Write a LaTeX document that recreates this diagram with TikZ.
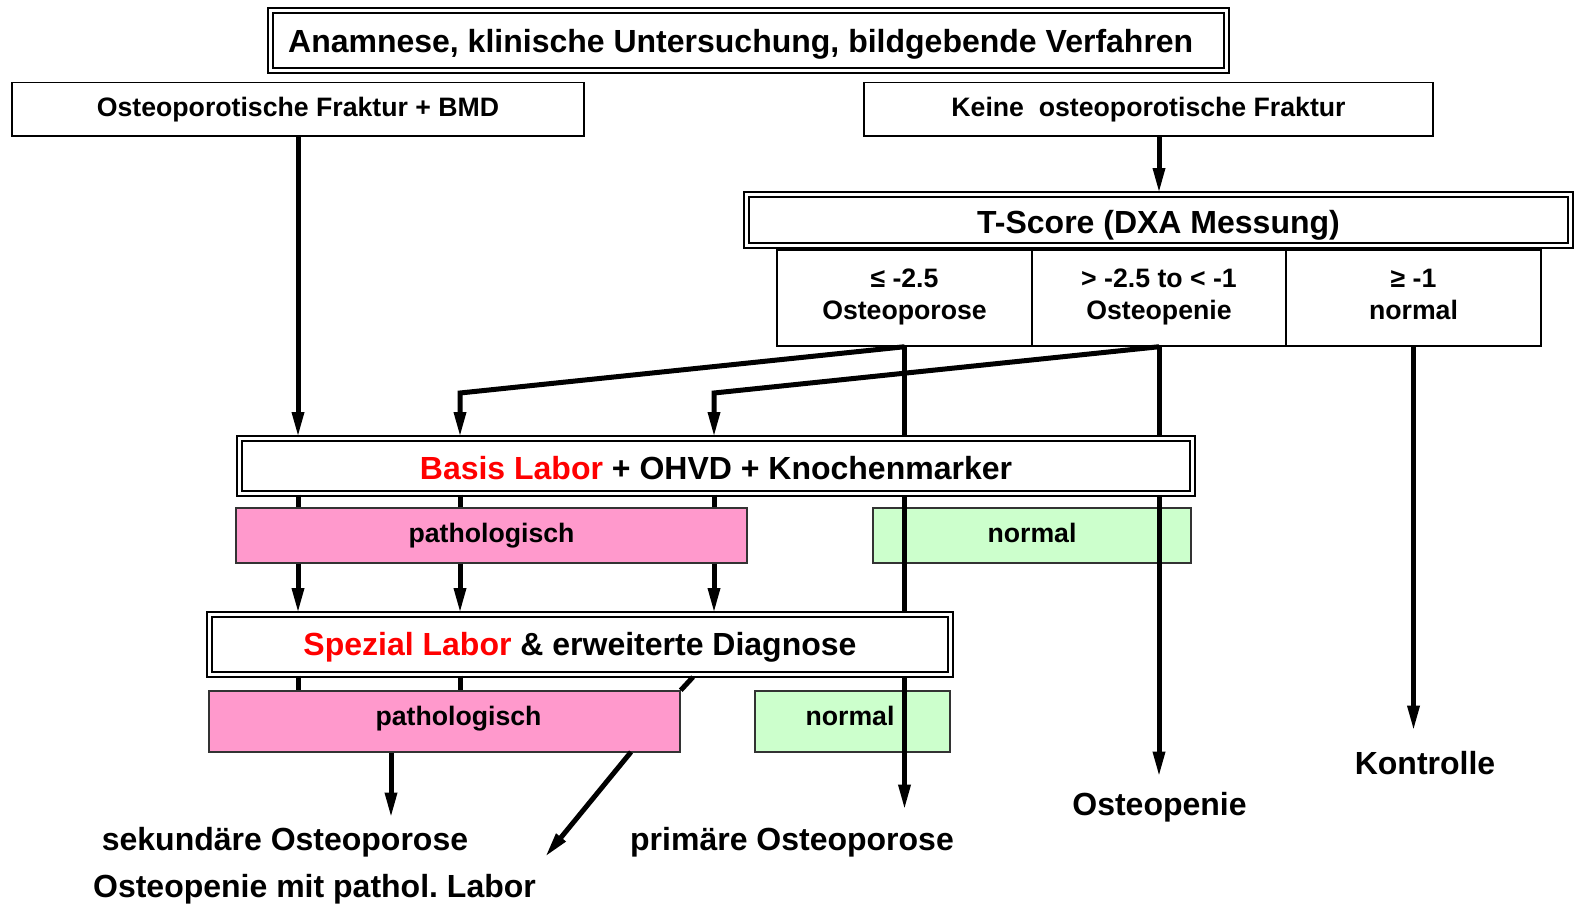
\documentclass[tikz,border=0pt]{standalone}
\usepackage{fontspec}
\setmainfont{Liberation Sans}
\usetikzlibrary{arrows.meta,fit,calc}
\definecolor{pinkc}{RGB}{255,153,204}
\definecolor{greenc}{RGB}{204,255,204}
\definecolor{redc}{RGB}{255,0,0}
\tikzset{
  big/.style={font=\bfseries\fontsize{24}{28}\selectfont, text height=17.2pt, text depth=0pt},
  small/.style={font=\bfseries\fontsize{20}{24}\selectfont, text height=14.3pt, text depth=0pt},
  sbox/.style={draw, line width=1.1pt, inner sep=0pt, fill=white},
  dbox/.style={draw, double, double distance=2pt, line width=1.6pt, inner sep=0pt, fill=white},
  pbox/.style={draw=black!80, line width=1.1pt, inner sep=0pt, fill=pinkc},
  gbox/.style={draw=black!80, line width=1.1pt, inner sep=0pt, fill=greenc},
  ln/.style={line width=3.75pt},
  arr/.style={line width=3.75pt, -{Triangle[length=19pt,width=8.5pt]}},
  lbl/.style={inner sep=0pt, big},
  ctxt/.style={inner sep=0pt, small},
}
\begin{document}
\frenchspacing
\begin{tikzpicture}[x=0.75pt,y=-0.75pt]
\useasboundingbox (0,0) rectangle (1577,903);
% top boxes
\node[dbox, fit={(270.5,10.5)(1226.5,70.5)}] (top) {};
\node[lbl] (toptext) at (740.7,41) {Anamnese, klinische Untersuchung, bildgebende Verfahren};
\node[sbox, fit={(12,82.5)(584,136)}] (fr) {};
\node[ctxt] (frt) at ($(fr.center)+(0,-2)$) {Osteoporotische Fraktur + BMD};
\node[sbox, fit={(864,82.5)(1433,136)}] (keine) {};
\node[ctxt] (keinet) at ($(keine.center)+(0,-2)$) {Keine\ \ osteoporotische Fraktur};
% T-score
\node[dbox, fit={(746.5,194.5)(1570.5,245.5)}] (ts) {};
\node[lbl] (tst) at ($(ts.center)+(0,2)$) {T-Score (DXA Messung)};
\node[sbox, fit={(777,250)(1032,346)}] (c1) {};
\node[sbox, fit={(1032,250)(1286,346)}] (c2) {};
\node[sbox, fit={(1286,250)(1541,346)}] (c3) {};
\node[ctxt] (c1a) at ($(c1.center)+(0,-20.4)$) {≤ -2.5};
\node[ctxt] (c1b) at ($(c1.center)+(0,11.8)$) {Osteoporose};
\node[ctxt] (c2a) at ($(c2.center)+(0,-20.4)$) {> -2.5 to < -1};
\node[ctxt] (c2b) at ($(c2.center)+(0,11.8)$) {Osteopenie};
\node[ctxt] (c3a) at ($(c3.center)+(0,-20.4)$) {≥ -1};
\node[ctxt] (c3b) at ($(c3.center)+(0,11.8)$) {normal};
% coordinates
\coordinate (b1) at (460,393);
\coordinate (b2) at (714,393);
\coordinate (tPrim) at (904.5,810);
\coordinate (tOpen) at (1159,777);
\coordinate (tKon) at (1413.5,731);
\coordinate (tSek) at (391,818);
\coordinate (tMit) at (545,857);
\coordinate (sMit) at (631,752);
\coordinate (dStub) at (693,677);
% green boxes
\node[gbox, fit={(873,508)(1191,563)}] (g1) {};
\node[ctxt] (g1t) at ($(g1.center)+(0,-2.5)$) {normal};
\node[gbox, fit={(755,691)(950,752)}] (g2) {};
\node[ctxt] (g2t) at (850,716) {normal};
% long lines (behind lab boxes, over green boxes)
\draw[arr] (c1.south) -- (tPrim);
\draw[arr] (c2.south) -- (tOpen);
% lab boxes
\node[dbox, fit={(239.5,438.5)(1192.5,493.5)}] (basis) {};
\node[lbl] (basist) at ($(basis.center)+(0,2.5)$) {\textcolor{redc}{Basis Labor} + OHVD + Knochenmarker};
\node[dbox, fit={(209.5,614.5)(950.5,674.5)}] (spez) {};
\node[lbl] (spezt) at ($(spez.center)+(0,0)$) {\textcolor{redc}{Spezial Labor} \& erweiterte Diagnose};
\node[pbox, fit={(236,508)(747,563)}] (p1) {};
\node[ctxt] (p1t) at ($(p1.center)+(0,-2.5)$) {pathologisch};
\node[pbox, fit={(209,691)(680,752)}] (p2) {};
\node[ctxt] (p2t) at (458.5,716) {pathologisch};
% connectors
\draw[arr] (keine.south -| c2.south) -- (c2.south |- ts.north);
\draw[arr] (c3.south) -- (tKon);
\draw[arr] (fr.south) -- (fr.south |- basis.north);
\draw[arr] (c1.south) -- (b1) -- (b1 |- basis.north);
\draw[arr] (c2.south) -- (b2) -- (b2 |- basis.north);
\draw[ln] (fr.south |- basis.south) -- (fr.south |- p1.north);
\draw[ln] (b1 |- basis.south) -- (b1 |- p1.north);
\draw[ln] (b2 |- basis.south) -- (b2 |- p1.north);
\draw[arr] (fr.south |- p1.south) -- (fr.south |- spez.north);
\draw[arr] (b1 |- p1.south) -- (b1 |- spez.north);
\draw[arr] (b2 |- p1.south) -- (b2 |- spez.north);
\draw[ln] (fr.south |- spez.south) -- (fr.south |- p2.north);
\draw[ln] (b1 |- spez.south) -- (b1 |- p2.north);
\draw[ln] (dStub) -- (p2.north east);
\draw[arr] (p2.south -| tSek) -- (tSek);
\draw[arr] (sMit) -- (tMit);
% result labels
\node[lbl] (sek) at (285,838.6) {sekundäre Osteoporose};
\node[lbl] (mit) at (314.5,885.6) {Osteopenie mit pathol. Labor};
\node[lbl] (prim) at (792,838.6) {primäre Osteoporose};
\node[lbl] (open) at (1159.5,803.6) {Osteopenie};
\node[lbl] (kon) at (1425,762.6) {Kontrolle};
\end{tikzpicture}
\end{document}
